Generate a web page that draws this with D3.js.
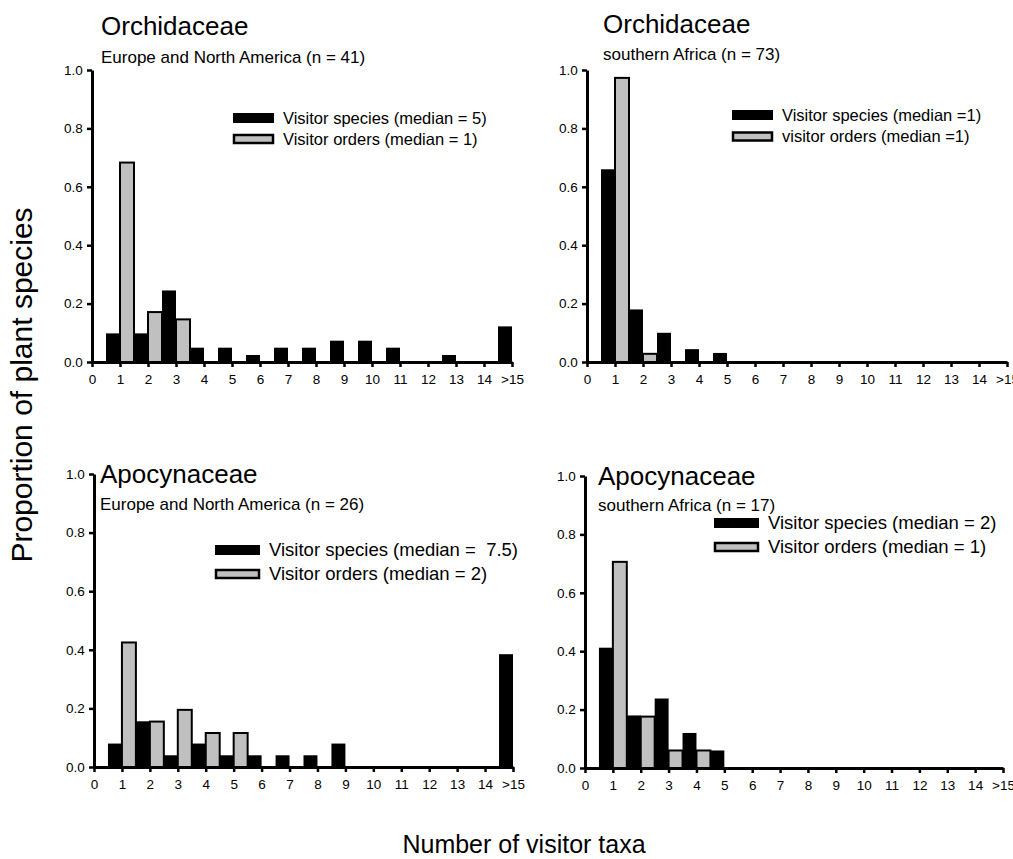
<!DOCTYPE html>
<html>
<head>
<meta charset="utf-8">
<script src="https://cdn.jsdelivr.net/npm/d3@7"></script>
<style>
  body { margin: 0; background: #fff; }
  svg { font-family: "Liberation Sans", Arial, sans-serif; }
  text { white-space: pre; }
</style>
</head>
<body>
<div class="chart"></div>
<script>
// Bins: number of visitor taxa (15 = ">15")
const bins = [1, 2, 3, 4, 5, 6, 7, 8, 9, 10, 11, 12, 13, 14, 15];
const tickValues = [0, 1, 2, 3, 4, 5, 6, 7, 8, 9, 10, 11, 12, 13, 14, 15];
const yTicks = [0, 0.2, 0.4, 0.6, 0.8, 1.0];

// Orchidaceae, Europe and North America
const orchEuSpecies = [0.098, 0.098, 0.245, 0.049, 0.049, 0.024, 0.049, 0.049, 0.073, 0.073, 0.049, 0, 0.024, 0, 0.122];
const orchEuOrders  = [0.683, 0.171, 0.146, 0, 0, 0, 0, 0, 0, 0, 0, 0, 0, 0, 0];
// Orchidaceae, southern Africa
const orchSaSpecies = [0.66, 0.18, 0.10, 0.044, 0.031, 0, 0, 0, 0, 0, 0, 0, 0, 0, 0];
const orchSaOrders  = [0.973, 0.028, 0, 0, 0, 0, 0, 0, 0, 0, 0, 0, 0, 0, 0];
// Apocynaceae, Europe and North America
const apocEuSpecies = [0.08, 0.156, 0.04, 0.08, 0.04, 0.04, 0.04, 0.04, 0.08, 0, 0, 0, 0, 0, 0.385];
const apocEuOrders  = [0.425, 0.155, 0.195, 0.116, 0.116, 0, 0, 0, 0, 0, 0, 0, 0, 0, 0];
// Apocynaceae, southern Africa
const apocSaSpecies = [0.412, 0.18, 0.238, 0.12, 0.06, 0, 0, 0, 0, 0, 0, 0, 0, 0, 0];
const apocSaOrders  = [0.706, 0.176, 0.06, 0.06, 0, 0, 0, 0, 0, 0, 0, 0, 0, 0, 0];

const svgWidth = 1013;
const svgHeight = 859;

const svg = d3.select(".chart")
    .append("svg")
    .attr("width", svgWidth)
    .attr("height", svgHeight);

// panel layout (pixel positions of the plot area)
const panels = [
    { x0: 92, x1: 512, yTop: 70, yBot: 362, species: orchEuSpecies, orders: orchEuOrders,
      title: "Orchidaceae", sub: "Europe and North America (n = 41)", tx: 101, ty: 35, sy: 63,
      leg: ["Visitor species (median = 5)", "Visitor orders (median = 1)"], lx: 233, ly: 113, lgap: 21, lsize: 16.5 },
    { x0: 587, x1: 1007, yTop: 70, yBot: 362, species: orchSaSpecies, orders: orchSaOrders,
      title: "Orchidaceae", sub: "southern Africa (n = 73)", tx: 603, ty: 33, sy: 60,
      leg: ["Visitor species (median =1)", "visitor orders (median =1)"], lx: 732, ly: 110, lgap: 21.5, lsize: 16.5 },
    { x0: 94, x1: 513, yTop: 474, yBot: 767, species: apocEuSpecies, orders: apocEuOrders,
      title: "Apocynaceae", sub: "Europe and North America (n = 26)", tx: 100, ty: 483, sy: 510,
      leg: ["Visitor species (median =  7.5)", "Visitor orders (median = 2)"], lx: 215, ly: 545, lgap: 24, lsize: 18.5 },
    { x0: 585, x1: 1003, yTop: 476, yBot: 768, species: apocSaSpecies, orders: apocSaOrders,
      title: "Apocynaceae", sub: "southern Africa (n = 17)", tx: 598, ty: 485, sy: 511,
      leg: ["Visitor species (median = 2)", "Visitor orders (median = 1)"], lx: 714, ly: 518, lgap: 24, lsize: 18.5 }
];

panels.forEach(function (p) {
    const g = svg.append("g");

    const x = d3.scaleLinear().domain([0, 15]).range([p.x0, p.x1]);
    const y = d3.scaleLinear().domain([0, 1]).range([p.yBot, p.yTop]);

    // species bars: left half of each bin
    g.selectAll(".sp")
        .data(bins.map((b, i) => ({ b: b, v: p.species[i] })).filter(d => d.v > 0))
        .enter()
        .append("rect")
        .attr("x", d => x(d.b - 0.5))
        .attr("width", d => x(d.b) - x(d.b - 0.5))
        .attr("y", d => y(d.v))
        .attr("height", d => y(0) - y(d.v))
        .attr("fill", "#000");

    // order bars: right half of each bin
    g.selectAll(".or")
        .data(bins.map((b, i) => ({ b: b, v: p.orders[i] })).filter(d => d.v > 0))
        .enter()
        .append("rect")
        .attr("x", d => x(d.b))
        .attr("width", d => x(d.b + 0.5) - x(d.b))
        .attr("y", d => y(d.v))
        .attr("height", d => y(0) - y(d.v))
        .attr("fill", "#c0c0c0")
        .attr("stroke", "#000")
        .attr("stroke-width", 2);

    // axes
    const xAxis = d3.axisBottom(x)
        .tickValues(tickValues)
        .tickSize(5)
        .tickSizeOuter(0)
        .tickFormat(d => d === 15 ? ">15" : d);
    const yAxis = d3.axisLeft(y)
        .tickValues(yTicks)
        .tickSize(5)
        .tickSizeOuter(0)
        .tickFormat(d3.format(".1f"));

    const gx = g.append("g")
        .attr("transform", `translate(0, ${p.yBot})`)
        .call(xAxis);
    const gy = g.append("g")
        .attr("transform", `translate(${p.x0}, 0)`)
        .call(yAxis);

    [gx, gy].forEach(a => {
        a.select(".domain").attr("stroke-width", 3);
        a.selectAll(".tick line").attr("stroke-width", 2.5);
        a.selectAll(".tick text")
            .attr("font-family", "Liberation Sans, Arial, sans-serif")
            .attr("font-size", "13.5px")
            .attr("fill", "#000");
    });
    gx.selectAll(".tick text").attr("dy", "1.0em");
    gy.selectAll(".tick text").attr("dx", "-0.1em");

    // titles
    g.append("text")
        .attr("x", p.tx).attr("y", p.ty)
        .attr("font-size", "26px")
        .text(p.title);
    g.append("text")
        .attr("x", p.tx).attr("y", p.sy)
        .attr("font-size", "17px")
        .text(p.sub);

    // legend
    const sw = p.lsize > 18 ? 45 : 41;
    const sh = 10;
    g.append("rect")
        .attr("x", p.lx).attr("y", p.ly)
        .attr("width", sw).attr("height", sh)
        .attr("fill", "#000");
    g.append("rect")
        .attr("x", p.lx + 1).attr("y", p.ly + p.lgap + 1)
        .attr("width", sw - 2).attr("height", sh - 2)
        .attr("fill", "#c0c0c0")
        .attr("stroke", "#000")
        .attr("stroke-width", 2.5);
    p.leg.forEach((t, i) => {
        g.append("text")
            .attr("x", p.lx + sw + 9)
            .attr("y", p.ly + i * p.lgap + sh / 2)
            .attr("dy", "0.35em")
            .attr("font-size", p.lsize + "px")
            .text(t);
    });
});

// axis labels
svg.append("text")
    .attr("transform", "translate(32, 385) rotate(-90)")
    .attr("text-anchor", "middle")
    .attr("font-size", "30px")
    .text("Proportion of plant species");

svg.append("text")
    .attr("x", 524)
    .attr("y", 853)
    .attr("text-anchor", "middle")
    .attr("font-size", "25px")
    .text("Number of visitor taxa");
</script>
</body>
</html>
